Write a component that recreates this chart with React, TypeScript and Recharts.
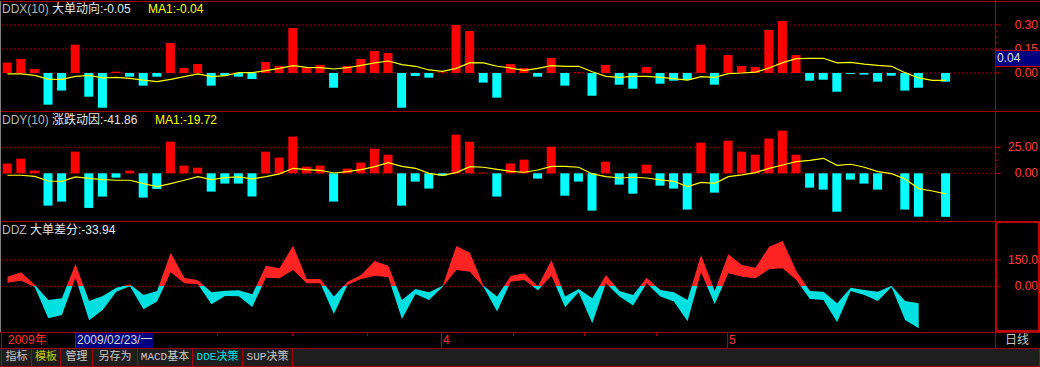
import React from 'react';
import { ComposedChart, Bar, Line, Area, XAxis, YAxis, ReferenceLine, Cell } from 'recharts';

// ---------- data ----------
const ddx = [
  0.065, 0.0875, 0.025, -0.198, -0.11, 0.177, -0.148, -0.217, 0.008, -0.023,
  -0.079, -0.023, 0.1875, 0.031, 0.056, -0.079, -0.015, -0.023, -0.0375, 0.069,
  0.044, 0.281, 0.033, 0.05, -0.092, 0.044, 0.0875, 0.1375, 0.125, -0.217,
  -0.019, -0.029, 0.003, 0.3, 0.2625, -0.06, -0.154, 0.056, 0.031, -0.023,
  0.094, -0.079, 0.003, -0.142, 0.05, -0.073, -0.098, 0.0375, -0.067, -0.048,
  -0.044, 0.177, -0.073, 0.1125, 0.044, 0.0375, 0.269, 0.325, 0.1125, -0.048,
  -0.042, -0.117, -0.006, -0.01, -0.054, -0.017, -0.11, -0.092, 0, -0.054,
];
const ddxMa = [
  -0.006, -0.006, -0.015, -0.038, -0.04, -0.021, -0.015, -0.031, -0.027, -0.033,
  -0.044, -0.054, -0.04, -0.023, -0.006, -0.023, -0.017, 0.002, 0.002, 0.015,
  0.029, 0.046, 0.035, 0.033, 0.025, 0.033, 0.048, 0.063, 0.075, 0.052,
  0.042, 0.019, 0.01, 0.029, 0.065, 0.063, 0.042, 0.031, 0.017, 0.029,
  0.046, 0.042, 0.042, 0.008, -0.021, -0.027, -0.021, -0.021, -0.027, -0.035,
  -0.044, -0.023, -0.027, -0.004, 0, 0.006, 0.031, 0.065, 0.09, 0.092,
  0.092, 0.063, 0.067, 0.056, 0.048, 0.042, 0.002, -0.031, -0.046, -0.046,
];
const ddy = [
  9.3, 14.1, 2.6, -31.1, -27.2, 20.8, -33.3, -22.4, -4.2, 2.6,
  -23.4, -15.1, 30.4, 7.4, 5.4, -17.6, -9.9, -9.9, -22.4, 20.8,
  15.1, 35.3, 6.4, 7.4, -27.2, 4.5, 10.3, 23.7, 17.9, -31.1,
  -8.0, -14.7, -2.2, 37.2, 30.4, 0.6, -22.4, 9.3, 13.1, -5.1,
  25.6, -21.5, -8.0, -35.9, 11.2, -10.9, -19.6, 8.3, -11.9, -14.7,
  -34.9, 29.5, -18.6, 31.4, 20.8, 17.9, 33.3, 41.0, 17.9, -13.8,
  -15.7, -36.9, -6.1, -9.9, -15.7, 0, -34.9, -41.7, 0, -41.86,
];
const ddyMa = [
  -1.9, -1.9, -2.9, -7.4, -7.7, -3.5, -4.8, -6.1, -6.7, -6.7,
  -9.9, -12.8, -9.9, -6.7, -3.2, -6.1, -4.2, -3.5, -5.4, -3.2,
  -0.6, 4.8, 3.5, 2.9, 0.3, 1.6, 3.5, 6.4, 10.3, 6.7,
  4.8, 0, -1.9, 0.6, 6.4, 5.8, 3.8, 1.9, 1.0, 3.2,
  6.7, 6.7, 5.8, -0.6, -3.2, -4.5, -3.8, -4.5, -6.4, -7.7,
  -12.8, -8.7, -9.6, -3.2, -1.6, 0.6, 4.8, 8.0, 11.2, 12.5,
  14.4, 7.7, 8.7, 5.8, 1.6, -0.3, -5.4, -14.7, -17.0, -19.72,
];
const ddzHigh = [
  55.1, 79.8, 9.5, -77.9, -68.4, 127.2, -83.6, -55.1, -7.6, 11.4,
  -49.4, -26.6, 191.8, 49.4, 34.2, -34.2, -24.7, -22.8, -45.6, 117.7,
  102.5, 231.7, 41.8, 41.8, -58.9, 26.6, 64.6, 144.3, 117.7, -77.9,
  -15.2, -34.2, 3.8, 229.8, 191.8, 3.8, -58.9, 58.9, 74.1, 0,
  150.0, -58.9, -15.2, -68.4, 64.6, -26.6, -49.4, 49.4, -20.9, -34.2,
  -77.9, 178.5, -26.6, 182.3, 121.5, 106.3, 226.0, 258.3, 87.4, -26.6,
  -30.4, -96.8, -7.6, -20.9, -30.4, 3.8, -83.6, -96.8,
];
const ddzLow = [
  20.9, 32.3, -3.8, -182.3, -163.3, 49.4, -193.7, -134.8, -30.4, 0,
  -131.0, -87.4, 79.8, 17.1, 11.4, -102.5, -55.1, -57.0, -117.7, 49.4,
  45.6, 93.1, 17.1, 17.1, -157.6, 7.6, 41.8, 58.9, 53.2, -186.1,
  -43.7, -77.9, -1.9, 93.1, 83.6, -3.8, -144.3, 26.6, 36.1, -22.8,
  60.8, -119.6, -34.2, -210.8, 17.1, -58.9, -110.1, 17.1, -58.9, -87.4,
  -199.0, 79.8, -102.5, 74.1, 55.1, 45.6, 96.8, 102.5, 36.1, -72.2,
  -77.9, -205.1, -26.6, -49.4, -83.6, -3.8, -191.8, -239.3,
];

const ddxTicks = [0, 0.0375, 0.075, 0.1125, 0.15, 0.1875, 0.225, 0.2625, 0.3];
const ddxMajor = [0, 0.15, 0.3];
const ddxLabels = ['0.00', '0.15', '0.30'];
const ddyTicks = [0, 6.25, 12.5, 18.75, 25];
const ddyMajor = [0, 25];
const ddyLabels = ['0.00', '25.00'];
const ddzTicks = [0, 75, 150];
const ddzMajor = [0, 150];
const ddzLabels = ['0.00', '150.0'];

const dateTickXs = [217, 292, 367, 513, 584, 656];
const buttons = [
  { label: '指标', color: '#c8c8c8', w: 30 },
  { label: '模板', color: '#c8c800', w: 29 },
  { label: '管理', color: '#c8c8c8', w: 32 },
  { label: '另存为', color: '#c8c8c8', w: 45 },
  { label: 'MACD基本', color: '#c8c8c8', w: 55 },
  { label: 'DDE决策', color: '#00e0e0', w: 50 },
  { label: 'SUP决策', color: '#c8c8c8', w: 50 },
];

// ---------- styles ----------
const W = 1040;
const PLOT_RIGHT = 995;
const AXIS_RED = '#a80000';
const GRID_RED = '#b00000';
const LABEL_RED = '#ff4040';
const BAR_RED = '#ff0000';
const BAR_CYAN = '#00ffff';
const DDZ_RED = '#ff2424';
const DDZ_CYAN = '#00e0e0';
const YELLOW = '#ffff00';
const FONT = '"Liberation Sans", "Noto Sans CJK SC", sans-serif';
const BTN_FONT = '"Liberation Mono", "Noto Sans CJK SC", monospace';
const X_DOMAIN: [number, number] = [-0.5515, 72.61];

const rows1 = ddx.map((v, i) => ({ i, v, ma: ddxMa[i] }));
const rows2 = ddy.map((v, i) => ({ i, v, ma: ddyMa[i] }));
const rows3 = ddzHigh.map((h, i) => ({ i, band: [ddzLow[i], h] }));

function makeTick(major: number[], labels: string[]) {
  return (props: any) => {
    const { y, payload } = props;
    const v = payload.value;
    const idx = major.findIndex((m) => Math.abs(m - v) < 1e-9);
    const isMajor = idx >= 0;
    return (
      <g>
        <line x1={PLOT_RIGHT} x2={PLOT_RIGHT + (isMajor ? 6 : 3)} y1={y} y2={y} stroke={AXIS_RED} />
        {isMajor && (
          <text x={1038} y={y} dy={4} textAnchor="end" fill={LABEL_RED} fontSize={12} fontFamily={FONT}>
            {labels[idx]}
          </text>
        )}
      </g>
    );
  };
}

function BarPanel(props: {
  rows: { i: number; v: number; ma: number }[];
  domain: [number, number];
  ticks: number[];
  major: number[];
  labels: string[];
  height: number;
}) {
  const { rows, domain, ticks, major, labels, height } = props;
  return (
    <ComposedChart width={W} height={height} data={rows} margin={{ top: 0, right: 0, bottom: 0, left: 0 }}>
      <XAxis type="number" dataKey="i" domain={X_DOMAIN} hide allowDataOverflow />
      <YAxis
        orientation="right"
        width={W - PLOT_RIGHT}
        domain={domain}
        ticks={ticks}
        interval={0}
        allowDataOverflow
        axisLine={false}
        tickLine={false}
        tick={makeTick(major, labels)}
      />
      {major.map((m) => (
        <ReferenceLine key={m} y={m} stroke={GRID_RED} strokeDasharray="1 3" zIndex={-10} />
      ))}
      <Bar dataKey="v" barSize={9} isAnimationActive={false}>
        {rows.map((r, k) => (
          <Cell key={k} fill={r.v >= 0 ? BAR_RED : BAR_CYAN} />
        ))}
      </Bar>
      <Line dataKey="ma" type="linear" stroke={YELLOW} strokeWidth={1.2} dot={false} activeDot={false} isAnimationActive={false} />
    </ComposedChart>
  );
}

function DdzPanel() {
  const domain: [number, number] = [-260.7, 372.5];
  const height = 111;
  const off = domain[1] / (domain[1] - domain[0]);
  return (
    <ComposedChart width={W} height={height} data={rows3} margin={{ top: 0, right: 0, bottom: 0, left: 0 }}>
      <defs>
        <linearGradient id="ddzFill" x1="0" y1="0" x2="0" y2={height} gradientUnits="userSpaceOnUse">
          <stop offset={off} stopColor={DDZ_RED} />
          <stop offset={off} stopColor={DDZ_CYAN} />
        </linearGradient>
      </defs>
      <XAxis type="number" dataKey="i" domain={X_DOMAIN} hide allowDataOverflow />
      <YAxis
        orientation="right"
        width={W - PLOT_RIGHT}
        domain={domain}
        ticks={ddzTicks}
        interval={0}
        allowDataOverflow
        axisLine={false}
        tickLine={false}
        tick={makeTick(ddzMajor, ddzLabels)}
      />
      {ddzMajor.map((m) => (
        <ReferenceLine key={m} y={m} stroke={GRID_RED} strokeDasharray="1 3" zIndex={-10} />
      ))}
      <Area
        dataKey="band"
        type="linear"
        stroke="none"
        fill="url(#ddzFill)"
        fillOpacity={1}
        dot={false}
        activeDot={false}
        isAnimationActive={false}
      />
    </ComposedChart>
  );
}

const abs = (s: React.CSSProperties): React.CSSProperties => ({ position: 'absolute', ...s });

function HLine({ y, x = 0, w = W, color = AXIS_RED }: { y: number; x?: number; w?: number; color?: string }) {
  return <div style={abs({ left: x, top: y, width: w, height: 1, background: color })} />;
}
function VLine({ x, y, h, color = AXIS_RED }: { x: number; y: number; h: number; color?: string }) {
  return <div style={abs({ left: x, top: y, width: 1, height: h, background: color })} />;
}

const textBase: React.CSSProperties = { fontFamily: FONT, fontSize: 12, lineHeight: '14px', whiteSpace: 'nowrap' };

export default function App() {
  let bx = 1;
  return (
    <div style={abs({ left: 0, top: 0, width: W, height: 367, background: '#000', overflow: 'hidden', fontFamily: FONT })}>
      <div style={abs({ left: 0, top: 1 })}>
        <BarPanel rows={rows1} domain={[-0.2375, 0.45]} ticks={ddxTicks} major={ddxMajor} labels={ddxLabels} height={110} />
      </div>
      <div style={abs({ left: 0, top: 111 })}>
        <BarPanel rows={rows2} domain={[-45.87, 59.9]} ticks={ddyTicks} major={ddyMajor} labels={ddyLabels} height={110} />
      </div>
      <div style={abs({ left: 0, top: 221 })}>
        <DdzPanel />
      </div>

      {/* frame lines */}
      <HLine y={1} />
      <HLine y={111} />
      <HLine y={221} />
      <VLine x={0} y={1} h={331} color="#808080" />
      <VLine x={PLOT_RIGHT} y={0} h={348} />

      {/* value box on DDX axis */}
      <div style={abs({ left: 996, top: 50, width: 44, height: 15, background: '#000080', borderTop: '1px solid #c00000', borderBottom: '1px solid #c00000' })} />
      <div style={{ ...textBase, ...abs({ left: 997, top: 51, color: '#e0e0e0' }) }}>0.04</div>

      {/* selected panel frame */}
      <div style={abs({ left: 995, top: 221, width: 41, height: 107, border: '2px solid #c00000' })} />

      {/* titles */}
      <div style={{ ...textBase, ...abs({ left: 2, top: 2 }) }}>
        <span style={{ color: '#b8b8b8' }}>DDX(10) </span>
        <span style={{ color: '#e8e8e8' }}>大单动向:-0.05</span>
      </div>
      <div style={{ ...textBase, ...abs({ left: 148, top: 2, color: YELLOW }) }}>MA1:-0.04</div>
      <div style={{ ...textBase, ...abs({ left: 2, top: 113 }) }}>
        <span style={{ color: '#b8b8b8' }}>DDY(10) </span>
        <span style={{ color: '#e8e8e8' }}>涨跌动因:-41.86</span>
      </div>
      <div style={{ ...textBase, ...abs({ left: 155, top: 113, color: YELLOW }) }}>MA1:-19.72</div>
      <div style={{ ...textBase, ...abs({ left: 2, top: 223 }) }}>
        <span style={{ color: '#b8b8b8' }}>DDZ </span>
        <span style={{ color: '#e8e8e8' }}>大单差分:-33.94</span>
      </div>

      {/* date axis */}
      <HLine y={332} />
      <HLine y={348} />
      <VLine x={1} y={332} h={16} />
      <VLine x={75} y={332} h={16} />
      <VLine x={441} y={332} h={16} />
      <VLine x={727} y={332} h={16} />
      {dateTickXs.map((x) => (
        <VLine key={x} x={x} y={332} h={4} />
      ))}
      <div style={{ ...textBase, ...abs({ left: 8, top: 333, color: '#ff3232' }) }}>2009年</div>
      <div style={abs({ left: 76, top: 333, width: 77, height: 15, background: '#000080' })} />
      <div style={{ ...textBase, ...abs({ left: 77, top: 333, color: '#d8d8d8' }) }}>2009/02/23/一</div>
      <div style={{ ...textBase, ...abs({ left: 443, top: 333, color: '#ff3232' }) }}>4</div>
      <div style={{ ...textBase, ...abs({ left: 729, top: 333, color: '#ff3232' }) }}>5</div>
      <div style={{ ...textBase, ...abs({ left: 1005, top: 333, color: '#c8c8c8' }) }}>日线</div>

      {/* button bar */}
      <div style={abs({ left: 0, top: 349, width: W, height: 17, background: '#1e1e1e' })} />
      <HLine y={366} />
      <VLine x={1} y={348} h={19} />
      <VLine x={W - 1} y={348} h={19} />
      {buttons.map((b) => {
        const left = bx;
        bx += b.w;
        return (
          <React.Fragment key={b.label}>
            <div
              style={{
                ...textBase,
                fontFamily: BTN_FONT,
                fontSize: 11,
                ...abs({ left: left + 1, top: 350, width: b.w - 1, textAlign: 'center', color: b.color }),
              }}
            >
              {b.label}
            </div>
            <VLine x={left + b.w} y={348} h={19} />
          </React.Fragment>
        );
      })}
    </div>
  );
}
